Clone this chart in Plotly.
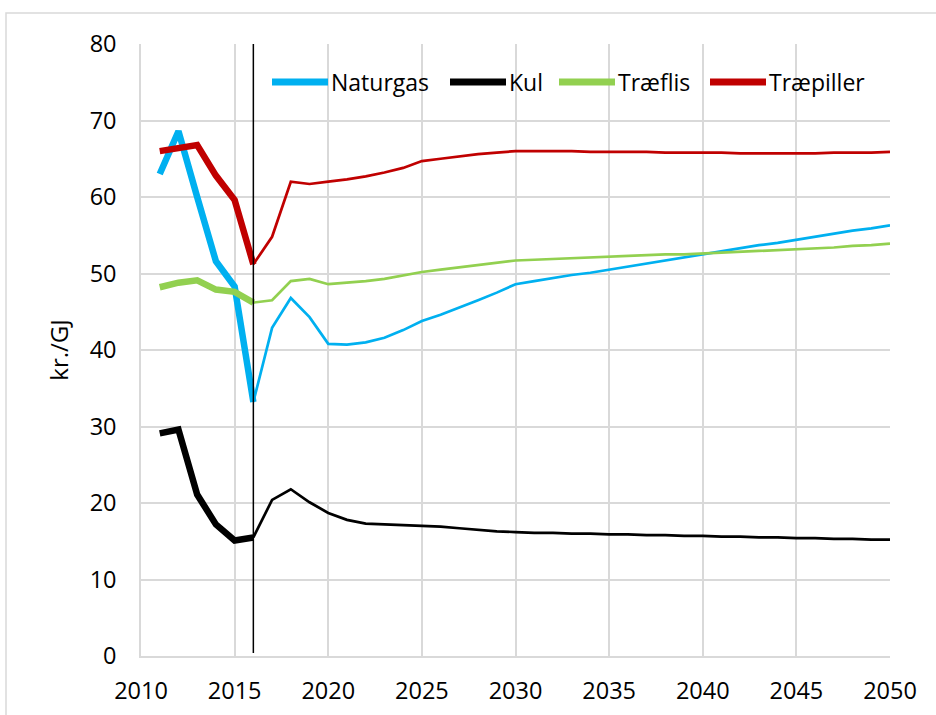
import plotly.graph_objects as go

# Fuel prices in kr./GJ, historic (2011-2016) and projected (2016-2050)
years = list(range(2011, 2051))

naturgas = [63.0, 68.6, 60.0, 51.6, 48.3, 33.2, 42.9, 46.8, 44.3, 40.8,
            40.7, 41.0, 41.6, 42.6, 43.8, 44.6, 45.5, 46.5, 47.5, 48.6,
            49.0, 49.4, 49.8, 50.1, 50.5, 50.9, 51.3, 51.7, 52.1, 52.5,
            52.9, 53.3, 53.7, 54.0, 54.4, 54.8, 55.2, 55.6, 55.9, 56.3]

kul = [29.1, 29.6, 21.1, 17.2, 15.1, 15.5, 20.4, 21.8, 20.1, 18.7,
       17.8, 17.3, 17.2, 17.1, 17.0, 16.9, 16.7, 16.5, 16.3, 16.2,
       16.1, 16.1, 16.0, 16.0, 15.9, 15.9, 15.8, 15.8, 15.7, 15.7,
       15.6, 15.6, 15.5, 15.5, 15.4, 15.4, 15.3, 15.3, 15.2, 15.2]

traeflis = [48.2, 48.8, 49.1, 47.9, 47.6, 46.2, 46.5, 49.0, 49.3, 48.6,
            48.8, 49.0, 49.3, 49.7, 50.2, 50.5, 50.8, 51.1, 51.4, 51.7,
            51.8, 51.9, 52.0, 52.1, 52.2, 52.3, 52.4, 52.5, 52.5, 52.6,
            52.7, 52.8, 52.9, 53.0, 53.1, 53.3, 53.4, 53.6, 53.7, 53.9]

traepiller = [66.0, 66.5, 66.8, 62.8, 59.6, 51.2, 54.8, 62.0, 61.7, 62.0,
              62.3, 62.7, 63.2, 63.8, 64.7, 65.0, 65.3, 65.6, 65.8, 66.0,
              66.0, 66.0, 66.0, 65.9, 65.9, 65.9, 65.9, 65.8, 65.8, 65.8,
              65.8, 65.7, 65.7, 65.7, 65.7, 65.7, 65.8, 65.8, 65.8, 65.9]

series_names = ["Naturgas", "Kul", "Træflis", "Træpiller"]
series_values = [naturgas, kul, traeflis, traepiller]
series_colors = ["#00b0f0", "#000000", "#92d050", "#c00000"]

BASE_YEAR = 2016
x_ticks = list(range(2010, 2051, 5))
y_ticks = list(range(0, 81, 10))

FONT = "Open Sans, Liberation Sans, sans-serif"
GRID = "#d9d9d9"

# plot-area geometry in pixels
W, H = 936, 715
ML, MR, MT, MB = 141, 46, 44, 59
PW, PH = W - ML - MR, H - MT - MB


def px_to_paper_x(px):
    return (px - ML) / PW


def px_to_paper_y(py):
    return (H - MB - py) / PH


fig = go.Figure()
split = years.index(BASE_YEAR)
for name, vals, col in zip(series_names, series_values, series_colors):
    # historic part: thick line
    fig.add_trace(go.Scatter(
        x=years[:split + 1], y=vals[:split + 1], mode="lines", name=name,
        line=dict(color=col, width=6.5), showlegend=False))
    # projection: thin line
    fig.add_trace(go.Scatter(
        x=years[split:], y=vals[split:], mode="lines", name=name,
        line=dict(color=col, width=2.7), showlegend=False))

# marker for the base year
fig.add_shape(type="line", xref="x", yref="y", x0=BASE_YEAR, x1=BASE_YEAR,
              y0=0.4, y1=80, line=dict(color="black", width=1.5), layer="above")

# outer chart border
fig.add_shape(type="rect", xref="paper", yref="paper",
              x0=px_to_paper_x(6), x1=px_to_paper_x(960),
              y0=px_to_paper_y(740), y1=px_to_paper_y(13),
              line=dict(color=GRID, width=1.5))

# legend row: long line samples followed by the series name
legend_start_px = [272, 450, 559, 710]
sample_len = 56
legend_y = px_to_paper_y(82)
for name, col, x0 in zip(series_names, series_colors, legend_start_px):
    fig.add_shape(type="line", xref="paper", yref="paper",
                  x0=px_to_paper_x(x0), x1=px_to_paper_x(x0 + sample_len),
                  y0=legend_y, y1=legend_y,
                  line=dict(color=col, width=7), layer="above")
    fig.add_annotation(xref="paper", yref="paper",
                       x=px_to_paper_x(x0 + sample_len + 1), y=legend_y,
                       text=name, showarrow=False, xanchor="left",
                       yanchor="middle", font=dict(size=23, color="black"))

fig.update_layout(
    width=W, height=H,
    margin=dict(l=ML, r=MR, t=MT, b=MB),
    paper_bgcolor="white", plot_bgcolor="white",
    font=dict(family=FONT, size=23, color="black"),
    showlegend=False,
    xaxis=dict(range=[2010, 2050], tickvals=x_ticks, showgrid=True,
               gridcolor=GRID, gridwidth=1.5, showline=True,
               linecolor=GRID, linewidth=1.5, zeroline=False, automargin=False,
               ticks="", ticklabelstandoff=13, tickfont=dict(size=23.5)),
    yaxis=dict(range=[0, 80], tickvals=y_ticks, showgrid=True,
               gridcolor=GRID, gridwidth=1.5, showline=True,
               linecolor=GRID, linewidth=1.5, zeroline=False, automargin=False,
               ticks="", ticklabelstandoff=18, tickfont=dict(size=23.5),
               title=dict(text="kr./GJ", font=dict(size=24), standoff=14)),
)

fig.write_html("out.html")
